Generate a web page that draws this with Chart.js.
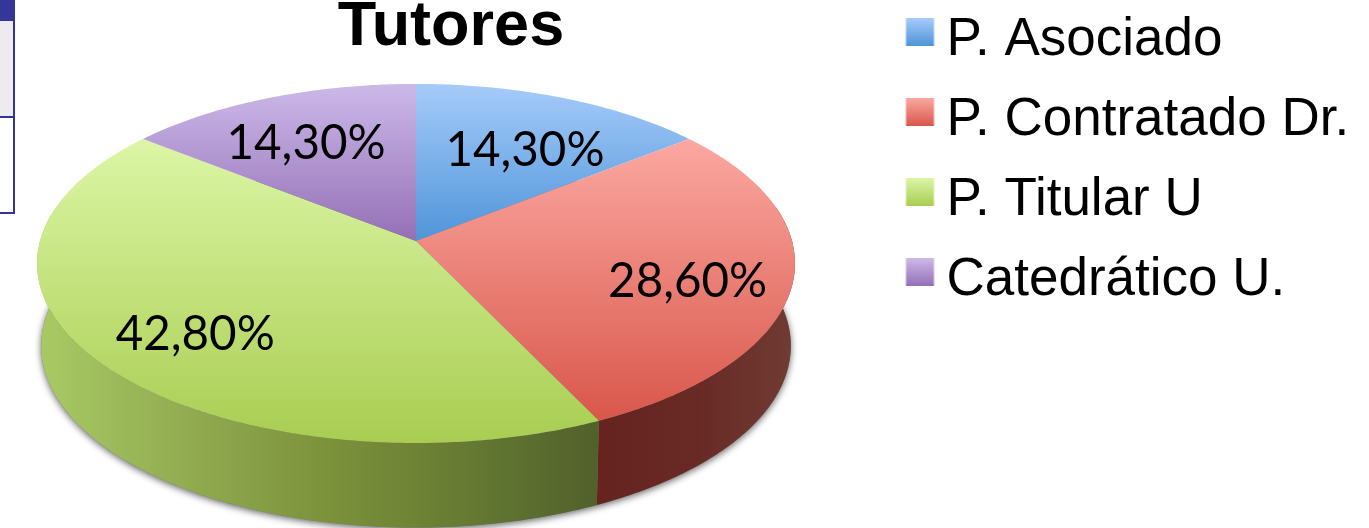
<!DOCTYPE html>
<html lang="es">
<head>
<meta charset="utf-8">
<title>Tutores</title>
<script src="https://cdn.jsdelivr.net/npm/chart.js@4"></script>
<style>
  html, body { margin: 0; padding: 0; background: #fff; overflow: hidden; }
  #wrap { position: relative; width: 1369px; height: 528px; }
  canvas { position: absolute; left: 0; top: 0; filter: blur(0.5px); }
  .tbl { position: absolute; left: 0; }
</style>
</head>
<body>
<div id="wrap">
  <canvas id="chart" width="1369" height="528"></canvas>
  <!-- corner of the neighbouring table -->
  <div class="tbl" style="top:0;width:15px;height:21px;background:#35359a"></div>
  <div class="tbl" style="top:21px;width:13px;height:95px;background:#ecebf0;border-right:2px solid #33339a"></div>
  <div class="tbl" style="top:116px;width:15px;height:2px;background:#33339a"></div>
  <div class="tbl" style="top:118px;width:13px;height:95px;background:#fff;border-right:2px solid #33339a"></div>
  <div class="tbl" style="top:212px;width:15px;height:2px;background:#33339a"></div>
</div>
<script>
const categories = ["P. Asociado", "P. Contratado Dr.", "P. Titular U", "Catedrático U."];
const shares = [14.3, 28.6, 42.8, 14.3];
const shareLabels = ["14,30%", "28,60%", "42,80%", "14,30%"];
const topColors = ["#a6cbfa", "#fba8a1", "#dcf6a6", "#ccb9e9"];
const bottomColors = ["#4f95d9", "#d9574b", "#a9cd52", "#9470b6"];
const solidColors = ["#7ab0e8", "#ea8078", "#c4e27c", "#b094d0"];

// shape of the tilted disc
const CX = 416, CY = 241, TILT_RATIO = 0.47, PERSPECTIVE = 0.125;
const BOTTOM_CY = 323, BOTTOM_A_RATIO = 0.989, BOTTOM_B_RATIO = 0.476;

const sideStops = {
  1: [[598, "#66231f"], [700, "#692a26"], [796, "#703c34"]],
  2: [[38, "#a8ca64"], [200, "#90a94f"], [330, "#7b913a"], [416, "#6e8335"], [500, "#607431"], [598, "#52602a"]]
};
const labelNudge = [[3, 13], [10, 12], [-3, 12], [-4, 6]];

// circle point to screen, the near side is stretched a little
function rimTop(r, t, f = 1) {
  const u = Math.cos(t) * f, v = Math.sin(t) * f;
  const w = 1 - PERSPECTIVE * v;
  return [CX + r * u / w, CY + r * TILT_RATIO * v / w];
}
function rimBottom(r, t) {
  const u = Math.cos(t), v = Math.sin(t);
  const w = 1 - PERSPECTIVE * v;
  return [CX + r * BOTTOM_A_RATIO * u / w, BOTTOM_CY + r * BOTTOM_B_RATIO * v / w];
}

function sampleAngles(from, to) {
  const out = [];
  const n = Math.max(2, Math.ceil((to - from) / 0.01));
  for (let i = 0; i <= n; i++) out.push(from + (to - from) * i / n);
  return out;
}

const tiltedPie = {
  id: "tiltedPie",
  beforeDatasetsDraw(chart) {
    const ctx = chart.ctx;
    const arcs = chart.getDatasetMeta(0).data;
    const r = arcs[0].outerRadius;

    // soft shadow under the base
    ctx.save();
    ctx.shadowColor = "rgba(0,0,0,0.6)";
    ctx.shadowBlur = 7;
    ctx.shadowOffsetY = 2;
    ctx.fillStyle = "#777";
    ctx.beginPath();
    sampleAngles(0, Math.PI * 2).forEach(t => {
      const p = rimBottom(r, t);
      ctx.lineTo(p[0], p[1]);
    });
    ctx.closePath();
    ctx.fill();
    ctx.restore();

    // side wall, only the near part shows
    const frontFrom = -0.2, frontTo = Math.PI + 0.2;
    arcs.forEach((arc, i) => {
      const stops = sideStops[i];
      if (!stops) return;
      const from = Math.max(arc.startAngle, frontFrom);
      const to = Math.min(arc.endAngle, frontTo);
      const g = ctx.createLinearGradient(stops[0][0], 0, stops[stops.length - 1][0], 0);
      const span = stops[stops.length - 1][0] - stops[0][0];
      stops.forEach(s => g.addColorStop((s[0] - stops[0][0]) / span, s[1]));
      const angles = sampleAngles(from, to);
      ctx.beginPath();
      angles.forEach(t => {
        const p = rimTop(r, t);
        ctx.lineTo(p[0], p[1]);
      });
      angles.slice().reverse().forEach(t => {
        const p = rimBottom(r, t);
        ctx.lineTo(p[0], p[1]);
      });
      ctx.closePath();
      ctx.fillStyle = g;
      ctx.fill();
    });

    // top faces
    arcs.forEach((arc, i) => {
      const pts = sampleAngles(arc.startAngle, arc.endAngle).map(t => rimTop(r, t));
      const ys = pts.map(p => p[1]).concat(CY);
      const g = ctx.createLinearGradient(0, Math.min(...ys), 0, Math.max(...ys));
      g.addColorStop(0, topColors[i]);
      g.addColorStop(1, bottomColors[i]);
      ctx.beginPath();
      ctx.moveTo(CX, CY);
      pts.forEach(p => ctx.lineTo(p[0], p[1]));
      ctx.closePath();
      ctx.fillStyle = g;
      ctx.fill();
    });

    // value labels
    ctx.save();
    ctx.font = "47.5px Lato";
    ctx.fillStyle = "#000";
    ctx.textAlign = "center";
    ctx.textBaseline = "middle";
    arcs.forEach((arc, i) => {
      const p = rimTop(r, (arc.startAngle + arc.endAngle) / 2, 0.7);
      ctx.fillText(shareLabels[i], p[0] + labelNudge[i][0], p[1] + labelNudge[i][1]);
    });
    ctx.restore();
    return false;
  }
};

// title and legend do not sit where the layout wants them
const placeBlocks = {
  id: "placeBlocks",
  afterLayout(chart) {
    const t = chart.titleBlock;
    t.left = 0; t.right = 902; t.top = -10; t.bottom = 70;
    const l = chart.legend;
    l.left = 892; l.right = 1369; l.top = -13.5; l.bottom = 528;
  }
};

function legendSwatch(i) {
  const c = document.createElement("canvas");
  c.width = 48; c.height = 48;
  const x = c.getContext("2d");
  const g = x.createLinearGradient(0, 2, 0, 30);
  g.addColorStop(0, topColors[i]);
  g.addColorStop(1, bottomColors[i]);
  x.fillStyle = g;
  x.fillRect(10.5, 2, 28, 28);
  return c;
}

new Chart(document.getElementById("chart"), {
  type: "pie",
  data: {
    labels: categories,
    datasets: [{
      data: shares,
      backgroundColor: solidColors,
      borderWidth: 0,
      radius: 376,
      clip: false
    }]
  },
  options: {
    responsive: false,
    animation: false,
    plugins: {
      tooltip: { enabled: false },
      title: {
        display: true,
        text: "Tutores",
        color: "#000",
        fullSize: false,
        padding: 0,
        font: { family: "Liberation Sans", size: 63, weight: "bold" }
      },
      legend: {
        position: "right",
        align: "start",
        labels: {
          color: "#000",
          font: { family: "Liberation Sans", size: 53 },
          usePointStyle: true,
          boxWidth: 1,
          boxHeight: 53,
          padding: 27,
          generateLabels: () => categories.map((text, i) => ({
            text,
            pointStyle: legendSwatch(i),
            fillStyle: solidColors[i],
            strokeStyle: solidColors[i],
            lineWidth: 0,
            index: i
          }))
        }
      }
    }
  },
  plugins: [placeBlocks, tiltedPie]
});
</script>
</body>
</html>
